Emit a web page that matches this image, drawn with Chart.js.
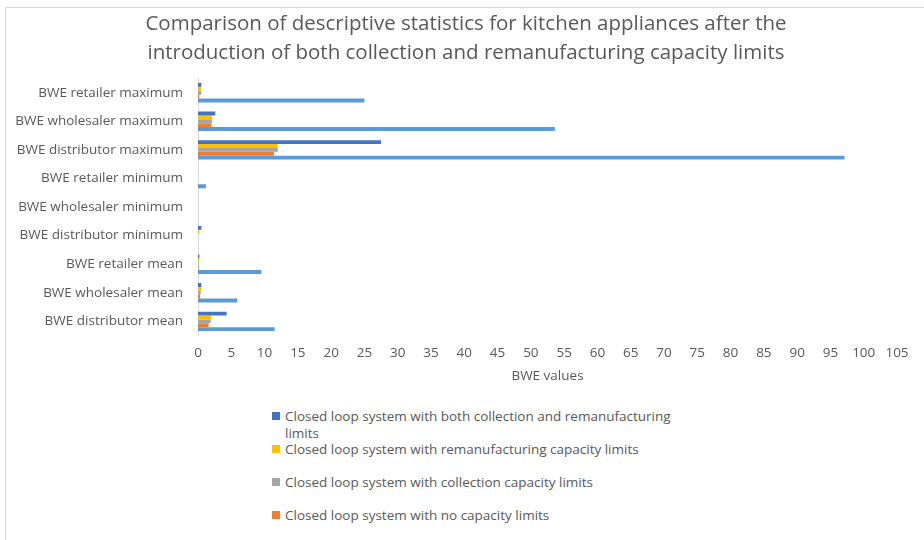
<!DOCTYPE html>
<html>
<head>
<meta charset="utf-8">
<script src="https://cdn.jsdelivr.net/npm/chart.js@4/dist/chart.umd.min.js"></script>
<style>
  html, body { margin: 0; padding: 0; background: #fff; width: 924px; height: 540px; overflow: hidden; }
  #frame { position: absolute; left: 5px; top: 7px; width: 960px; height: 600px; border: 1px solid #d9d9d9; box-sizing: border-box; }
  #chart { position: absolute; left: 0; top: 0; }
  #legend { position: absolute; left: 272px; top: 408px; width: 400px; font-family: "Open Sans", sans-serif; font-size: 13.5px; color: #595959; }
  #legend .item { position: relative; height: 33px; line-height: 16.5px; padding-left: 13px; }
  #legend .box { position: absolute; left: 0; top: 4px; width: 8px; height: 8px; }
</style>
</head>
<body>
<div id="frame"></div>
<canvas id="chart" width="924" height="392"></canvas>
<div id="legend"></div>
<script>
// Category labels, listed top to bottom
const categories = [
  'BWE retailer maximum',
  'BWE wholesaler maximum',
  'BWE distributor maximum',
  'BWE retailer minimum',
  'BWE wholesaler minimum',
  'BWE distributor minimum',
  'BWE retailer mean',
  'BWE wholesaler mean',
  'BWE distributor mean'
];

// Series names
const seriesNames = [
  'Closed loop system with both collection and remanufacturing limits',
  'Closed loop system with remanufacturing capacity limits',
  'Closed loop system with collection capacity limits',
  'Closed loop system with  no capacity limits',
  'Open loop system'
];

// BWE values per series, in category order
const bothLimits        = [0.5, 2.6, 27.5, 0, 0, 0.5, 0.2, 0.5, 4.3];
const remanLimits       = [0.45, 2.1, 11.9, 0, 0, 0.2, 0.2, 0.5, 2.0];
const collectionLimits  = [0.5, 2.1, 12.0, 0, 0, 0, 0.1, 0.4, 1.9];
const noLimits          = [0.2, 2.0, 11.4, 0, 0, 0, 0.1, 0.3, 1.6];
const openLoop          = [25.0, 53.6, 97.1, 1.2, 0, 0, 9.5, 5.9, 11.5];

const seriesColors = ['#4472C4', '#FFC000', '#A5A5A5', '#ED7D31', '#5B9BD5'];
const legendSeries = [0, 1, 2, 3];

const xTicks = { min: 0, max: 105, step: 5 };

const FONT = '"Open Sans", sans-serif';
const GREY = '#595959';

const seriesValues = [bothLimits, remanLimits, collectionLimits, noLimits, openLoop];

const chart = new Chart(document.getElementById('chart'), {
  type: 'bar',
  data: {
    labels: categories,
    datasets: seriesValues.map((vals, i) => ({
      label: seriesNames[i],
      data: vals,
      backgroundColor: seriesColors[i],
      borderWidth: 0,
      barPercentage: 1.0,
      categoryPercentage: 0.68
    }))
  },
  options: {
    indexAxis: 'y',
    responsive: false,
    animation: false,
    devicePixelRatio: 1,
    layout: { padding: { left: 16, right: 8, top: 4, bottom: 0 } },
    plugins: {
      legend: { display: false },
      tooltip: { enabled: false },
      title: {
        display: true,
        text: [
          'Comparison of descriptive statistics for kitchen appliances after the',
          'introduction of both collection and remanufacturing capacity limits'
        ],
        color: GREY,
        font: { family: FONT, size: 20.5, weight: 'normal', lineHeight: 1.4 },
        padding: { top: 6, bottom: 11 }
      }
    },
    scales: {
      x: {
        min: xTicks.min,
        max: xTicks.max,
        ticks: { stepSize: xTicks.step, color: GREY, font: { family: FONT, size: 13.5 }, padding: 9 },
        grid: { display: false, drawTicks: false },
        border: { display: false },
        title: { display: true, text: 'BWE values', color: GREY, font: { family: FONT, size: 13.5, lineHeight: 0.9 }, padding: { top: 0, bottom: 10 } }
      },
      y: {
        ticks: { color: GREY, font: { family: FONT, size: 13.5 }, padding: 15 },
        grid: { display: false, drawTicks: false },
        border: { display: true, color: '#d9d9d9', width: 1 },
        afterFit: scale => { scale.width = 182; }
      },
      // empty right-hand margin axis
      yMargin: {
        type: 'category',
        position: 'right',
        ticks: { display: false },
        grid: { display: false, drawTicks: false },
        border: { display: false },
        afterFit: scale => { scale.width = 19; }
      }
    }
  }
});

// Vertical legend built from the chart's datasets
const legendEl = document.getElementById('legend');
legendSeries.forEach(i => {
  const ds = chart.data.datasets[i];
  const item = document.createElement('div');
  item.className = 'item';
  const box = document.createElement('span');
  box.className = 'box';
  box.style.background = ds.backgroundColor;
  item.appendChild(box);
  item.appendChild(document.createTextNode(ds.label));
  legendEl.appendChild(item);
});
</script>
</body>
</html>
